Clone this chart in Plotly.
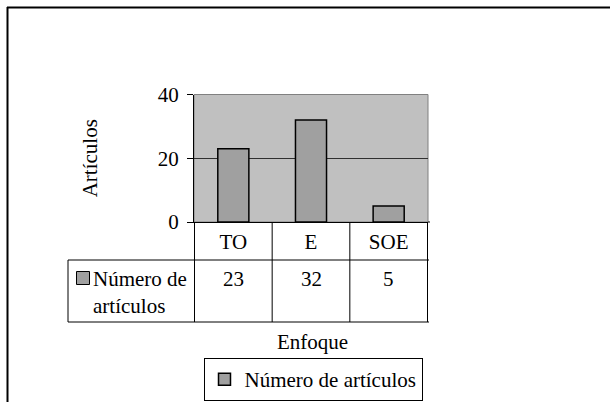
import plotly.graph_objects as go

# ---- data ----
categories = ["TO", "E", "SOE"]
values = [23, 32, 5]
series_name = "Número de artículos"
series_label_table = "Número de<br>artículos"
y_tick_values = [0, 20, 40]
x_title = "Enfoque"
y_title = "Artículos"

W, H = 610, 402
FONT = "Liberation Serif"
FS = 21
BAR_COLOR = "#A0A0A0"


def px(x):
    return x / W


def py(y):
    return 1 - y / H


fig = go.Figure()
fig.add_trace(go.Bar(
    x=categories, y=values, name=series_name,
    marker=dict(color=BAR_COLOR, line=dict(color="black", width=1.5)),
    showlegend=True,
))

# plot area geometry (pixels)
x0, x1 = 194, 428
y_top, y_bot = 94.5, 222
row1_bot, row2_bot, table_left = 260, 322, 68

fig.update_layout(
    width=W, height=H,
    margin=dict(l=0, r=0, t=0, b=0, autoexpand=False),
    paper_bgcolor="white",
    plot_bgcolor="#C0C0C0",
    bargap=0.6,
    font=dict(family=FONT, size=FS, color="black"),
    xaxis=dict(
        domain=[px(x0), px(x1)],
        type="category",
        automargin=False,
        ticks="",
        showline=True, linecolor="black", linewidth=1,
        showgrid=False,
        ticklabelstandoff=1,
        tickfont=dict(size=FS, family=FONT),
        fixedrange=True,
    ),
    yaxis=dict(
        domain=[py(y_bot), py(y_top)],
        automargin=False,
        range=[0, 40],
        tickvals=y_tick_values,
        ticks="outside", ticklen=6, tickcolor="black",
        showline=True, linecolor="black", linewidth=1,
        showgrid=True, gridcolor="#303030", gridwidth=1,
        zeroline=False,
        ticklabelstandoff=4,
        tickfont=dict(size=FS, family=FONT),
        title=dict(text=y_title, font=dict(size=FS, family=FONT), standoff=54),
        fixedrange=True,
    ),
    legend=dict(
        orientation="h",
        x=px(313), xanchor="center",
        y=py(358), yanchor="top",
        bordercolor="black", borderwidth=1,
        bgcolor="white",
        itemwidth=30,
        font=dict(size=FS, family=FONT),
    ),
)

shapes = []
# plot area border (gray)
shapes.append(dict(type="rect", xref="paper", yref="paper",
                   x0=px(x0), x1=px(x1), y0=py(y_bot), y1=py(y_top),
                   line=dict(color="#808080", width=1), layer="below"))
# outer frame (top & left)
shapes.append(dict(type="line", xref="paper", yref="paper",
                   x0=px(7), x1=1, y0=py(7.5), y1=py(7.5),
                   line=dict(color="black", width=2)))
shapes.append(dict(type="line", xref="paper", yref="paper",
                   x0=px(7.5), x1=px(7.5), y0=py(7), y1=0,
                   line=dict(color="black", width=2)))
# data table: vertical dividers at category boundaries
for i in range(len(categories) + 1):
    shapes.append(dict(type="line", xref="x", yref="paper",
                       x0=i - 0.5, x1=i - 0.5, y0=py(y_bot), y1=py(row2_bot),
                       line=dict(color="black", width=1)))
# data table horizontal rules
for yy in (row1_bot, row2_bot):
    shapes.append(dict(type="line", xref="paper", yref="paper",
                       x0=px(table_left), x1=px(x1 + 1), y0=py(yy), y1=py(yy),
                       line=dict(color="black", width=1)))
shapes.append(dict(type="line", xref="paper", yref="paper",
                   x0=px(table_left), x1=px(table_left), y0=py(row1_bot), y1=py(row2_bot),
                   line=dict(color="black", width=1)))
shapes.append(dict(type="line", xref="paper", yref="paper",
                   x0=px(x1), x1=px(x1 + 2), y0=py(y_bot), y1=py(y_bot),
                   line=dict(color="black", width=1)))
# legend key in table
shapes.append(dict(type="rect", xref="paper", yref="paper",
                   x0=px(76.5), x1=px(89.5), y0=py(284.5), y1=py(271.5),
                   fillcolor=BAR_COLOR, line=dict(color="black", width=1)))
fig.update_layout(shapes=shapes)

annotations = []
for c, v in zip(categories, values):
    annotations.append(dict(x=c, xref="x", y=py(265), yref="paper",
                            text=str(v), showarrow=False, yanchor="top",
                            font=dict(size=FS, family=FONT)))
annotations.append(dict(x=px(91), xref="paper", y=py(265), yref="paper",
                        text=series_label_table, showarrow=False,
                        xanchor="left", yanchor="top", align="left",
                        font=dict(size=FS, family=FONT)))
annotations.append(dict(x=px(312), xref="paper", y=py(342), yref="paper",
                        text=x_title, showarrow=False, yanchor="middle",
                        font=dict(size=FS, family=FONT)))
fig.update_layout(annotations=annotations)

fig.write_html("out.html", config={"displayModeBar": False},
               post_script="document.body.style.margin='0';")
